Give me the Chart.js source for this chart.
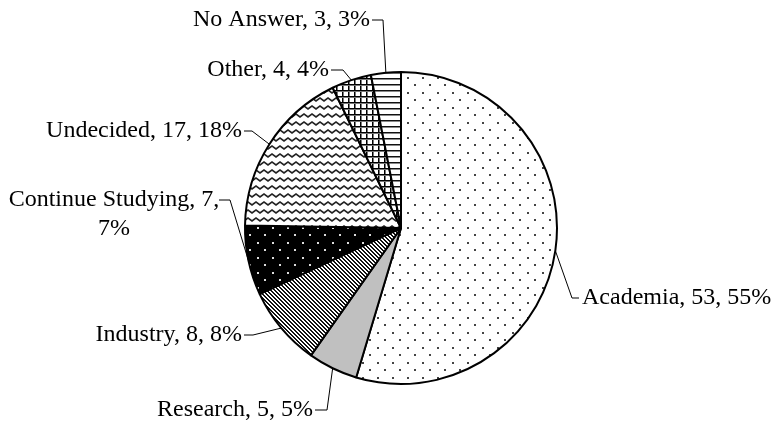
<!DOCTYPE html>
<html>
<head>
<meta charset="utf-8">
<script src="https://cdn.jsdelivr.net/npm/chart.js@4"></script>
<style>
  html, body { margin: 0; padding: 0; background: #fff; }
  canvas { display: block; }
</style>
</head>
<body>
<canvas id="pie" width="774" height="425"></canvas>
<script>
// data
const categories = ['Academia', 'Research', 'Industry', 'Continue Studying', 'Undecided', 'Other', 'No Answer'];
const counts = [53, 5, 8, 7, 17, 4, 3];

// where each label sits (elbow of the leader, end of its short tail, text side)
const labelSpots = [
    { ex: 572, ey: 298, tx: 579, side: 'right' },
    { ex: 327, ey: 410, tx: 315, side: 'left' },
    { ex: 253, ey: 335, tx: 244, side: 'left' },
    { ex: 230, ey: 200, tx: 219, side: 'two' },
    { ex: 252, ey: 131, tx: 244, side: 'left' },
    { ex: 343, ey: 70, tx: 331, side: 'left' },
    { ex: 383, ey: 20, tx: 372, side: 'left' },
];

function makePattern(w, h, draw) {
    const c = document.createElement('canvas');
    c.width = w; c.height = h;
    const g = c.getContext('2d');
    draw(g, w, h);
    return g.createPattern(c, 'repeat');
}

const dots = makePattern(15, 15, (g) => {
    g.fillStyle = '#fff'; g.fillRect(0, 0, 15, 15);
    g.fillStyle = '#444';
    g.fillRect(2, 2, 2, 2);
    g.fillRect(9, 9, 2, 2);
});
const blackDots = makePattern(15, 15, (g) => {
    g.fillStyle = '#000'; g.fillRect(0, 0, 15, 15);
    g.fillStyle = '#ddd';
    g.fillRect(2, 2, 2, 2);
    g.fillRect(9, 9, 2, 2);
});
const diag = makePattern(4, 4, (g) => {
    g.fillStyle = '#fff'; g.fillRect(0, 0, 4, 4);
    g.fillStyle = '#111';
    for (let x = 0; x < 4; x++) {
        for (let y = 0; y < 4; y++) {
            if ((x - y + 8) % 4 < 2) g.fillRect(x, y, 1, 1);
        }
    }
});
const wavy = makePattern(8, 8, (g) => {
    g.fillStyle = '#fff'; g.fillRect(0, 0, 8, 8);
    g.strokeStyle = '#222';
    g.lineWidth = 1.6;
    g.beginPath();
    g.moveTo(-4, 5); g.lineTo(0, 2); g.lineTo(4, 5); g.lineTo(8, 2); g.lineTo(12, 5);
    g.stroke();
});
const grid = makePattern(6, 6, (g) => {
    g.fillStyle = '#fff'; g.fillRect(0, 0, 6, 6);
    g.fillStyle = '#000';
    g.fillRect(0, 0, 6, 1);
    g.fillRect(0, 0, 1, 6);
    g.fillStyle = '#777';
    g.fillRect(0, 1, 6, 1);
    g.fillRect(1, 1, 1, 5);
});
const hlines = makePattern(6, 6, (g) => {
    g.fillStyle = '#fff'; g.fillRect(0, 0, 6, 6);
    g.fillStyle = '#111';
    g.fillRect(0, 0, 6, 1);
    g.fillStyle = '#888';
    g.fillRect(0, 1, 6, 1);
});

const fills = [dots, '#c0c0c0', diag, blackDots, wavy, grid, hlines];

const total = counts.reduce((a, b) => a + b, 0);

const leaderLabels = {
    id: 'leaderLabels',
    afterDraw(chart) {
        const ctx = chart.ctx;
        const meta = chart.getDatasetMeta(0);
        ctx.save();
        ctx.strokeStyle = '#000';
        ctx.lineWidth = 1;
        ctx.fillStyle = '#000';
        ctx.font = '24px "Liberation Serif", "Times New Roman", serif';
        ctx.textBaseline = 'middle';
        meta.data.forEach((arc, i) => {
            const p = arc.getProps(['x', 'y', 'startAngle', 'endAngle', 'outerRadius'], true);
            const mid = (p.startAngle + p.endAngle) / 2;
            const sx = p.x + Math.cos(mid) * p.outerRadius;
            const sy = p.y + Math.sin(mid) * p.outerRadius;
            const s = labelSpots[i];
            ctx.beginPath();
            ctx.moveTo(sx, sy);
            ctx.lineTo(s.ex, s.ey);
            ctx.lineTo(s.tx, s.ey);
            ctx.stroke();
            const pct = Math.round(counts[i] / total * 100);
            if (s.side === 'two') {
                ctx.textAlign = 'center';
                ctx.fillText(categories[i] + ', ' + counts[i] + ',', 114, s.ey);
                ctx.fillText(pct + '%', 114, s.ey + 29);
            } else {
                const txt = categories[i] + ', ' + counts[i] + ', ' + pct + '%';
                if (s.side === 'right') {
                    ctx.textAlign = 'left';
                    ctx.fillText(txt, s.tx + 3, s.ey);
                } else {
                    ctx.textAlign = 'right';
                    ctx.fillText(txt, s.tx - 2, s.ey);
                }
            }
        });
        ctx.restore();
    }
};

new Chart(document.getElementById('pie'), {
    type: 'pie',
    data: {
        labels: categories,
        datasets: [{
            data: counts,
            backgroundColor: fills,
            borderColor: '#000',
            borderWidth: 2,
            hoverOffset: 0,
        }]
    },
    options: {
        responsive: false,
        animation: false,
        events: [],
        layout: { padding: { top: 71, bottom: 40, left: 244, right: 216 } },
        plugins: {
            legend: { display: false },
            tooltip: { enabled: false }
        }
    },
    plugins: [leaderLabels]
});
</script>
</body>
</html>
